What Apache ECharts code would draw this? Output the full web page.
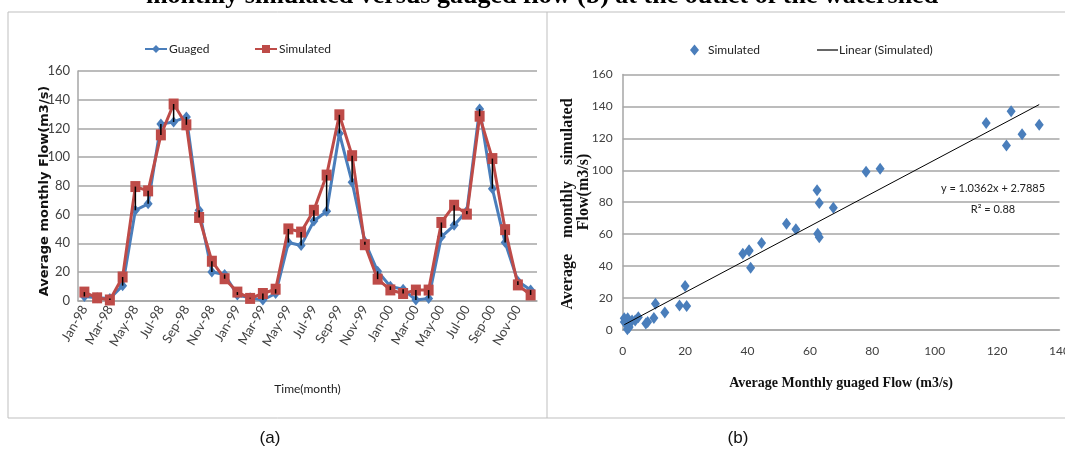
<!DOCTYPE html>
<html>
<head>
<meta charset="utf-8">
<script src="https://cdn.jsdelivr.net/npm/echarts@6/dist/echarts.min.js"></script>
<style>
html,body{margin:0;padding:0;background:#fff;}
#chart{width:1065px;height:450px;}
</style>
</head>
<body>
<div id="chart"></div>
<script>
// ---- data ----
const months = ['Jan-98','Feb-98','Mar-98','Apr-98','May-98','Jun-98','Jul-98','Aug-98','Sep-98','Oct-98','Nov-98','Dec-98',
                'Jan-99','Feb-99','Mar-99','Apr-99','May-99','Jun-99','Jul-99','Aug-99','Sep-99','Oct-99','Nov-99','Dec-99',
                'Jan-00','Feb-00','Mar-00','Apr-00','May-00','Jun-00','Jul-00','Aug-00','Sep-00','Oct-00','Nov-00','Dec-00'];
const gauged    = [3, 2, 1.5, 10.5, 63, 67.5, 123, 124.5, 128, 63, 20, 18.2,
                   4, 2, 0.5, 5, 40.5, 38.5, 55.5, 62.3, 116.5, 82.5, 41, 20.5,
                   10, 8, 0.5, 1.6, 44.5, 52.5, 62.5, 133.5, 78, 40.5, 13.5, 7.4];
const simulated = [6, 2, 0.5, 16.5, 79.5, 76.5, 115.5, 137, 122.5, 58, 27.5, 15.3,
                   6, 1.6, 5, 8, 50, 47.8, 63, 87.5, 129.5, 101, 39, 15,
                   7.5, 5, 7.4, 7.4, 54.5, 66.5, 60.3, 128.5, 99, 49.5, 11, 4];
const trendSlope = 1.0362;
const trendIntercept = 2.7885;
const equationText = 'y = 1.0362x + 2.7885';
const r2Text = 'R\u00b2 = 0.88';
const yTicks = {min: 0, max: 160, interval: 20};
const xTicksB = {min: 0, max: 140, interval: 20};

// ---- derived ----
const scatterData = gauged.map((g, i) => [g, simulated[i]]);
const xMin = Math.min(...gauged), xMax = Math.max(...gauged);
const trendData = [[xMin, trendSlope * xMin + trendIntercept], [xMax, trendSlope * xMax + trendIntercept]];
const diffData = months.map((m, i) => [i, gauged[i], simulated[i]]);

const BLUE = '#4a7ebb';
const RED = '#be4b48';
const GRID = '#a6a6a6';
const LBL = '#404040';
const NARROW = "Lato, 'Liberation Sans', sans-serif";

const chart = echarts.init(document.getElementById('chart'), null, {renderer: 'canvas'});
chart.setOption({
  animation: false,
  backgroundColor: '#fff',
  grid: [
    {left: 78, top: 71, width: 459, height: 229.7, outerBoundsMode: 'none', containLabel: false},
    {left: 622.7, top: 74.4, width: 436.8, height: 255.6, outerBoundsMode: 'none', containLabel: false}
  ],
  legend: [
    {data: ['Guaged'], left: 139, top: 38, itemWidth: 22, itemHeight: 10, itemGap: 0,
     textStyle: {fontFamily: NARROW, fontSize: 12, color: '#222', padding: [0, 0, 0, -3]}},
    {data: ['Simulated'], left: 249, top: 38, itemWidth: 22, itemHeight: 10,
     textStyle: {fontFamily: NARROW, fontSize: 12, color: '#222', padding: [0, 0, 0, -3]}},
    {data: [{name: 'Simulated ', icon: 'diamond'}], left: 685, top: 39, itemWidth: 9, itemHeight: 11,
     textStyle: {fontFamily: NARROW, fontSize: 12, color: '#222', padding: [0, 0, 0, 4]}},
    {data: [{name: 'Linear (Simulated)', icon: 'rect'}], left: 812, top: 39, itemWidth: 21, itemHeight: 1.2, itemGap: 0,
     textStyle: {fontFamily: NARROW, fontSize: 12, color: '#222', padding: [0, 0, 0, -4]}}
  ],
  xAxis: [
    {gridIndex: 0, type: 'category', data: months, boundaryGap: true,
     axisLine: {show: true, lineStyle: {color: GRID, width: 1.5}},
     axisTick: {show: false},
     axisLabel: {interval: 1, rotate: 60, fontFamily: NARROW, fontSize: 13, color: LBL, margin: 6},
     name: 'Time(month)', nameLocation: 'middle', nameGap: 82,
     nameTextStyle: {fontFamily: NARROW, fontSize: 12, color: '#222'}},
    {gridIndex: 1, type: 'value', min: xTicksB.min, max: xTicksB.max, interval: xTicksB.interval,
     axisLine: {show: true, lineStyle: {color: GRID, width: 1.5}},
     axisTick: {show: false}, splitLine: {show: false},
     axisLabel: {fontFamily: NARROW, fontSize: 12, color: LBL, margin: 15},
     name: 'Average Monthly guaged Flow (m3/s)', nameLocation: 'middle', nameGap: 46,
     nameTextStyle: {fontFamily: "'Liberation Serif',serif", fontWeight: 'bold', fontSize: 14, color: '#111'}}
  ],
  yAxis: [
    {gridIndex: 0, type: 'value', min: yTicks.min, max: yTicks.max, interval: yTicks.interval,
     axisLine: {show: true, lineStyle: {color: GRID, width: 1.5}},
     axisTick: {show: false},
     splitLine: {show: true, lineStyle: {color: GRID, width: 1.5}},
     axisLabel: {fontFamily: NARROW, fontSize: 13, color: LBL, margin: 8}},
    {gridIndex: 1, type: 'value', min: yTicks.min, max: yTicks.max, interval: yTicks.interval,
     axisLine: {show: true, lineStyle: {color: GRID, width: 1.5}},
     axisTick: {show: false},
     splitLine: {show: true, lineStyle: {color: GRID, width: 1.5}},
     axisLabel: {fontFamily: NARROW, fontSize: 12, color: LBL, margin: 10}}
  ],
  series: [
    {name: 'Guaged', type: 'line', xAxisIndex: 0, yAxisIndex: 0, data: gauged,
     lineStyle: {color: BLUE, width: 3}, itemStyle: {color: BLUE},
     symbol: 'diamond', symbolSize: [9, 11], showAllSymbol: true, z: 2},
    {name: 'Simulated', type: 'line', xAxisIndex: 0, yAxisIndex: 0, data: simulated,
     lineStyle: {color: RED, width: 3}, itemStyle: {color: RED},
     symbol: 'rect', symbolSize: [10, 11], showAllSymbol: true, z: 3},
    {name: 'diff', type: 'custom', xAxisIndex: 0, yAxisIndex: 0, data: diffData, z: 4,
     encode: {x: 0, y: [1, 2]},
     renderItem: function (params, api) {
       const a = api.coord([api.value(0), api.value(1)]);
       const b = api.coord([api.value(0), api.value(2)]);
       return {type: 'line', shape: {x1: a[0], y1: a[1], x2: b[0], y2: b[1]},
               style: {stroke: '#000', lineWidth: 1.5}};
     }},
    {name: 'Simulated ', type: 'scatter', xAxisIndex: 1, yAxisIndex: 1, data: scatterData,
     symbol: 'diamond', symbolSize: [9, 12], itemStyle: {color: BLUE, opacity: 1}, z: 3},
    {name: 'Linear (Simulated)', type: 'line', xAxisIndex: 1, yAxisIndex: 1, data: trendData,
     symbol: 'none', lineStyle: {color: '#000', width: 1}, itemStyle: {color: '#000'}, z: 4}
  ],
  graphic: [
    {type: 'rect', shape: {x: 8, y: 12, width: 539, height: 406}, style: {fill: 'none', stroke: '#bfbfbf', lineWidth: 1}, silent: true},
    {type: 'line', shape: {x1: 547, y1: 12, x2: 1065, y2: 12}, style: {stroke: '#bfbfbf', lineWidth: 1}, silent: true},
    {type: 'line', shape: {x1: 547, y1: 418, x2: 1065, y2: 418}, style: {stroke: '#bfbfbf', lineWidth: 1}, silent: true},
    {type: 'text', style: {text: 'monthly simulated versus gauged flow (b) at the outlet of the watershed', x: 542, y: 9,
      align: 'center', verticalAlign: 'bottom', font: "bold 26px 'Liberation Serif', serif", fill: '#000'}},
    {type: 'text', rotation: Math.PI / 2, x: 45, y: 191,
     style: {text: 'Average monthly Flow(m3/s)', x: 0, y: 0, align: 'center', verticalAlign: 'middle',
       font: "bold 13px 'DejaVu Sans', sans-serif", fill: '#111'}},
    {type: 'text', rotation: Math.PI / 2, x: 568, y: 204,
     style: {text: 'Average    monthly    simulated', x: 0, y: 0, align: 'center', verticalAlign: 'middle',
       font: "bold 16px 'Liberation Serif', serif", fill: '#111'}},
    {type: 'text', rotation: Math.PI / 2, x: 584, y: 192,
     style: {text: 'Flow(m3/s)', x: 0, y: 0, align: 'center', verticalAlign: 'middle',
       font: "bold 16px 'Liberation Serif', serif", fill: '#111'}},
    {type: 'text', style: {text: equationText, x: 993, y: 188, align: 'center', verticalAlign: 'middle',
       font: "11px " + NARROW, fill: '#222'}},
    {type: 'text', style: {text: r2Text, x: 993, y: 209, align: 'center', verticalAlign: 'middle',
       font: "11px " + NARROW, fill: '#222'}},
    {type: 'text', style: {text: '(a)', x: 270, y: 438, align: 'center', verticalAlign: 'middle',
       font: "17px 'Liberation Sans', sans-serif", fill: '#111'}},
    {type: 'text', style: {text: '(b)', x: 738, y: 438, align: 'center', verticalAlign: 'middle',
       font: "17px 'Liberation Sans', sans-serif", fill: '#111'}}
  ]
});
</script>
</body>
</html>
